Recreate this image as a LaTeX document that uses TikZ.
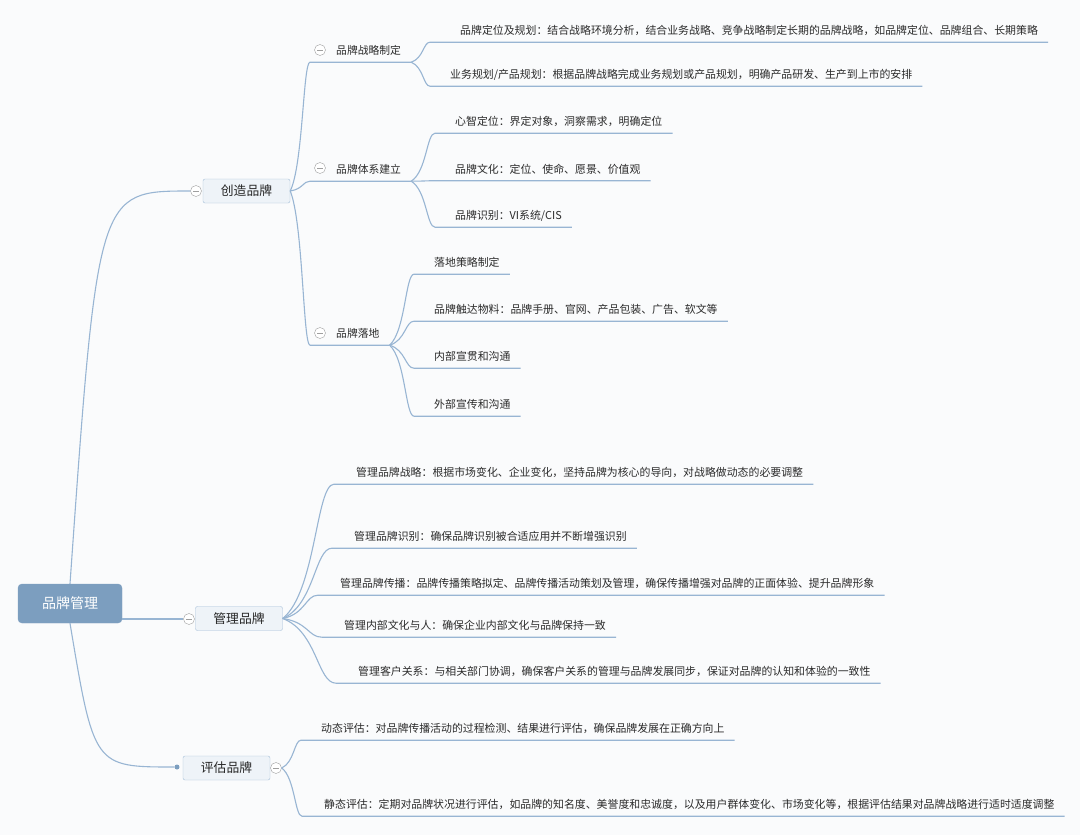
\documentclass[tikz,border=0pt]{standalone}
\usepackage{fontspec}
\setmainfont{Noto Sans CJK SC}
\usepackage{tikz}
\usepackage{xcolor}
\usetikzlibrary{calc}
\definecolor{rootblue}{HTML}{7C9EBF}
\definecolor{linkblue}{HTML}{98B5D3}
\definecolor{boxfill}{HTML}{EEF3F8}
\definecolor{boxline}{HTML}{A5BFD8}
\definecolor{txtgray}{HTML}{2B2B2B}
\definecolor{bggray}{HTML}{FAFBFC}

\begin{document}
\begin{tikzpicture}[x=1pt, y=-1pt,
  root/.style={draw=rootblue, fill=rootblue, rounded corners=4pt, minimum width=104pt, minimum height=39pt, text=white, font=\fontsize{14}{16}\selectfont},
  main/.style={draw=boxline, fill=boxfill, rounded corners=2pt, minimum width=87pt, minimum height=24pt, text=black!85, font=\fontsize{12.8}{15}\selectfont},
  sub/.style={anchor=west, inner xsep=10pt, inner ysep=0pt, minimum height=24pt, text=txtgray, font=\fontsize{10.8}{13}\selectfont},
  leaf/.style={anchor=west, inner xsep=10pt, inner ysep=0pt, minimum height=23pt, text=txtgray, font=\fontsize{10.9}{13}\selectfont},
  fold/.style={circle, draw=gray!75, fill=white, minimum size=11pt, inner sep=0pt, path picture={\draw[gray!75] ([xshift=2.5pt]path picture bounding box.west) -- ([xshift=-2.5pt]path picture bounding box.east);}},
  dot/.style={circle, fill=rootblue, minimum size=5pt, inner sep=0pt},
  link/.style={draw=linkblue, line width=1.1pt, to path={let \p1=(\tikztostart), \p2=(\tikztotarget) in .. controls ({\x1+0.65*(\x2-\x1)},{\y1+0.2*(\y2-\y1)}) and ({\x1+0.65*(\x2-\x1)},\y2) .. (\p2) \tikztonodes}},
  trunk/.style={draw=linkblue, line width=1.1pt, to path={let \p1=(\tikztostart), \p2=(\tikztotarget) in .. controls ({\x1+0.23*(\x2-\x1)},\y2) .. (\p2) \tikztonodes}}
]
% Background
\fill[bggray] (0,0) rectangle (1080,835);
\useasboundingbox (0,0) rectangle (1080,835);

% Root topic
\node[root] (brand) at (70,603.5) {品牌管理};

% Main topics
\node[main] (create) at (246.5,191) {创造品牌};
\node[main] (manage) at (239,618.5) {管理品牌};
\node[main] (assess) at (226.5,768) {评估品牌};
\node[fold] (fc) at (196,191) {};
\node[fold] (fm) at (189,619) {};
\node[fold] (fa) at (276,768) {};
\node[dot] (da) at (177,767) {};

% Subtopics of create
\node[sub] (strat) at (326,50) {品牌战略制定};
\node[sub] (system) at (326,169) {品牌体系建立};
\node[sub] (land) at (326,333) {品牌落地};
\node[fold] (f1) at (320,50) {};
\node[fold] (f2) at (320,168) {};
\node[fold] (f3) at (320,333) {};

% Leaves of create
\node[leaf] (l11) at (450,30.5) {品牌定位及规划：结合战略环境分析，结合业务战略、竞争战略制定长期的品牌战略，如品牌定位、品牌组合、长期策略};
\node[leaf] (l12) at (440,74.5) {业务规划/产品规划：根据品牌战略完成业务规划或产品规划，明确产品研发、生产到上市的安排};
\node[leaf] (l21) at (445,121.5) {心智定位：界定对象，洞察需求，明确定位};
\node[leaf] (l22) at (445,169) {品牌文化：定位、使命、愿景、价值观};
\node[leaf] (l23) at (445,215.5) {品牌识别：VI系统/CIS};
\node[leaf] (l31) at (424,262.5) {落地策略制定};
\node[leaf] (l32) at (424,309.5) {品牌触达物料：品牌手册、官网、产品包装、广告、软文等};
\node[leaf] (l33) at (424,356.5) {内部宣贯和沟通};
\node[leaf] (l34) at (424,404.5) {外部宣传和沟通};

% Leaves of manage
\node[leaf] (m1) at (346,472.5) {管理品牌战略：根据市场变化、企业变化，坚持品牌为核心的导向，对战略做动态的必要调整};
\node[leaf] (m2) at (344,536.5) {管理品牌识别：确保品牌识别被合适应用并不断增强识别};
\node[leaf] (m3) at (330,583.5) {管理品牌传播：品牌传播策略拟定、品牌传播活动策划及管理，确保传播增强对品牌的正面体验、提升品牌形象};
\node[leaf] (m4) at (334,625.5) {管理内部文化与人：确保企业内部文化与品牌保持一致};
\node[leaf] (m5) at (348,671.5) {管理客户关系：与相关部门协调，确保客户关系的管理与品牌发展同步，保证对品牌的认知和体验的一致性};

% Leaves of assess
\node[leaf] (e1) at (311,728.5) {动态评估：对品牌传播活动的过程检测、结果进行评估，确保品牌发展在正确方向上};
\node[leaf] (e2) at (314,804.5) {静态评估：定期对品牌状况进行评估，如品牌的知名度、美誉度和忠诚度，以及用户群体变化、市场变化等，根据评估结果对品牌战略进行适时适度调整};

% Root links
\draw[trunk] (brand.north) to (fc.west);
\draw[link] (brand.east |- fm.west) to (fm.west);
\draw[trunk] (brand.south) to (da.west);

% Create links
\draw[link] (create.east) to ([xshift=-16pt]strat.south west) -- (strat.south east);
\draw[link] (create.east) to ([xshift=-16pt]system.south west) -- (system.south east);
\draw[link] (create.east) to ([xshift=-16pt]land.south west) -- (land.south east);
\draw[link] (strat.south east) to ([xshift=-20pt]l11.south west) -- (l11.south east);
\draw[link] (strat.south east) to ([xshift=-10pt]l12.south west) -- (l12.south east);
\draw[link] (system.south east) to ([xshift=-10pt]l21.south west) -- (l21.south east);
\draw[link] (system.south east) to ([xshift=-10pt]l22.south west) -- (l22.south east);
\draw[link] (system.south east) to ([xshift=-10pt]l23.south west) -- (l23.south east);
\draw[link] (land.south east) to ([xshift=-10pt]l31.south west) -- (l31.south east);
\draw[link] (land.south east) to ([xshift=-10pt]l32.south west) -- (l32.south east);
\draw[link] (land.south east) to ([xshift=-10pt]l33.south west) -- (l33.south east);
\draw[link] (land.south east) to ([xshift=-10pt]l34.south west) -- (l34.south east);

% Manage links
\draw[link] (manage.east) to ([xshift=-12pt]m1.south west) -- (m1.south east);
\draw[link] (manage.east) to ([xshift=-12pt]m2.south west) -- (m2.south east);
\draw[link] (manage.east) to ([xshift=-12pt]m3.south west) -- (m3.south east);
\draw[link] (manage.east) to ([xshift=-12pt]m4.south west) -- (m4.south east);
\draw[link] (manage.east) to ([xshift=-12pt]m5.south west) -- (m5.south east);

% Assess links
\draw[link] (fa.east) to ([xshift=-10pt]e1.south west) -- (e1.south east);
\draw[link] (fa.east) to ([xshift=-12pt]e2.south west) -- (e2.south east);
\end{tikzpicture}
\end{document}
